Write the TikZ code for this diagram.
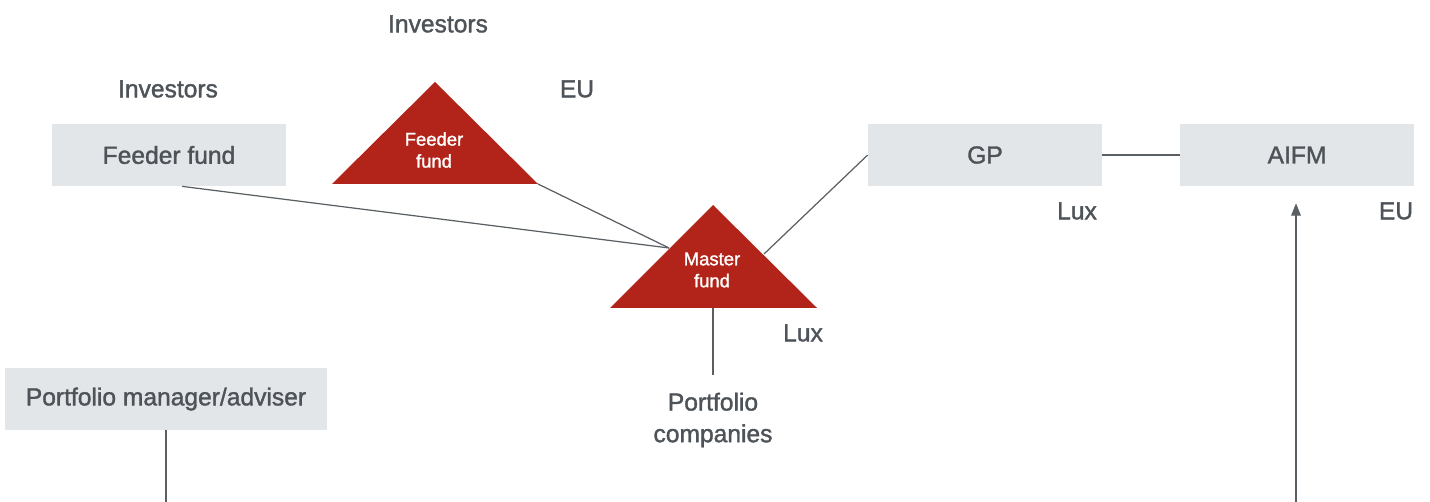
\documentclass[tikz,border=0pt]{standalone}
\usepackage{fontspec}
\setmainfont{Liberation Sans}[FakeBold=1.4]
\usetikzlibrary{positioning,calc,arrows.meta}
\definecolor{boxgrey}{HTML}{E3E6E9}
\definecolor{txtgrey}{HTML}{4D5358}
\definecolor{fundred}{HTML}{B22419}
\definecolor{linegrey}{HTML}{5A5F63}

\begin{document}
\begin{tikzpicture}[x=0.02cm,y=-0.02cm,
	box/.style={fill=boxgrey,text=txtgrey,minimum width=4.68cm,minimum height=1.24cm,inner sep=0pt,font=\fontsize{14}{17}\selectfont},
	lbl/.style={text=txtgrey,inner sep=0pt,font=\fontsize{14}{18}\selectfont},
	fundtxt/.style={text=white,align=center,inner sep=0pt,font=\fontsize{10.5}{12.5}\selectfont},
	link/.style={draw=linegrey,line width=0.7pt}]
		\useasboundingbox (0,0) rectangle (1430,502);
		% boxes
		\node[box] (feederbox) at (169,155) {Feeder fund};
		\node[box] (gp) at (985,155) {GP};
		\node[box] (aifm) at (1297,155) {AIFM};
		\node[box,minimum width=6.46cm] (pm) at (166,399) {Portfolio manager/adviser};
		% triangles
		\coordinate (ftop) at (435,82);
		\coordinate (fleft) at (332,184);
		\coordinate (fright) at (538,184);
		\fill[fundred] (ftop) -- (fright) -- (fleft) -- cycle;
		\node[fundtxt] (feedertri) at (434,150) {Feeder\\fund};
		\coordinate (mtop) at (713,205);
		\coordinate (mleft) at (610,308);
		\coordinate (mright) at (817,308);
		\coordinate (mbase) at (713,308);
		\fill[fundred] (mtop) -- (mright) -- (mleft) -- cycle;
		\node[fundtxt] (master) at (712,270) {Master\\fund};
		\coordinate (minL) at (669,248);
		\coordinate (minR) at (764,254);
		% labels
		\node[lbl] (inv1) at (438,24) {Investors};
		\node[lbl] (inv2) at (168,89) {Investors};
		\node[lbl] (eu1) at (577,89) {EU};
		\node[lbl] (lux1) at (1077,211) {Lux};
		\node[lbl] (eu2) at (1396,211) {EU};
		\node[lbl] (lux2) at (803,333) {Lux};
		\node[lbl,align=center,inner sep=0pt,outer sep=0.36cm] (pc) at (713,420) {Portfolio\\companies};
		\coordinate (pmend) at (166,502);
		\coordinate (aifmfeed) at (1296,502);
		% connectors
		\draw[link] ($(feederbox.south)+(13,0)$) -- (minL);
		\draw[link] (fright) -- (minL);
		\draw[link] (gp.west) -- (minR);
		\draw[link] (gp.east) -- (aifm.west);
		\draw[link] (mbase) -- (pc.north);
		\draw[link] (pm.south) -- (pmend);
		\draw[link,-{Triangle[length=7pt,width=5.5pt]}] (aifmfeed) -- ($(aifm.south)+(-1,17)$);
	\end{tikzpicture}
\end{document}
